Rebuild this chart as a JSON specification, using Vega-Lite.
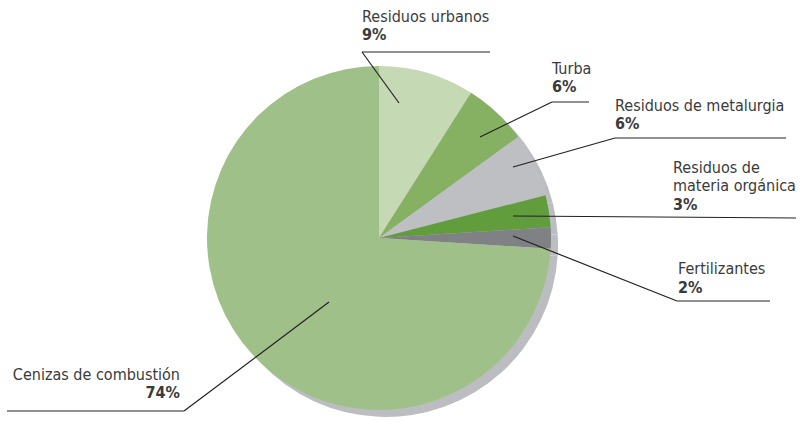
{
  "$schema": "https://vega.github.io/schema/vega-lite/v6.json",
  "width": 802,
  "height": 422,
  "padding": 0,
  "autosize": {"type": "none"},
  "background": "white",
  "config": {"view": {"stroke": null}},
  "datasets": {
    "slices": [
      {"name": "Residuos urbanos", "share": 0.09, "idx": 1},
      {"name": "Turba", "share": 0.06, "idx": 2},
      {"name": "Residuos de metalurgia", "share": 0.06, "idx": 3},
      {"name": "Residuos de materia orgánica", "share": 0.03, "idx": 4},
      {"name": "Fertilizantes", "share": 0.02, "idx": 5},
      {"name": "Cenizas de combustión", "share": 0.74, "idx": 6}
    ],
    "labels": [
      {"label": "Residuos urbanos", "share": 0.09, "x": 362, "y": 22, "py": 40, "side": "left"},
      {"label": "Turba", "share": 0.06, "x": 552, "y": 74, "py": 92, "side": "left"},
      {"label": "Residuos de metalurgia", "share": 0.06, "x": 615, "y": 111, "py": 129, "side": "left"},
      {"label": "Residuos de\nmateria orgánica", "share": 0.03, "x": 673, "y": 173, "py": 210, "side": "left"},
      {"label": "Fertilizantes", "share": 0.02, "x": 678, "y": 274, "py": 293, "side": "left"},
      {"label": "Cenizas de combustión", "share": 0.74, "x": 180, "y": 380, "py": 398, "side": "right"}
    ],
    "leaders": [
      {"x": 399, "y": 103, "x2": 362, "y2": 52},
      {"x": 362, "y": 52, "x2": 490, "y2": 52},
      {"x": 480, "y": 137, "x2": 552, "y2": 102},
      {"x": 552, "y": 102, "x2": 589, "y2": 102},
      {"x": 513, "y": 167, "x2": 615, "y2": 138},
      {"x": 615, "y": 138, "x2": 786, "y2": 138},
      {"x": 513, "y": 216, "x2": 796, "y2": 218},
      {"x": 513, "y": 236, "x2": 677, "y2": 301},
      {"x": 677, "y": 301, "x2": 770, "y2": 301},
      {"x": 329, "y": 302, "x2": 184, "y2": 411},
      {"x": 7, "y": 411, "x2": 184, "y2": 411}
    ]
  },
  "layer": [
    {
      "data": {"name": "slices"},
      "mark": {"type": "arc", "outerRadius": 172, "color": "#bcbdc1"},
      "encoding": {
        "theta": {"field": "share", "type": "quantitative", "stack": true},
        "order": {"field": "idx", "type": "quantitative"},
        "x": {"datum": 386, "type": "quantitative", "scale": {"domain": [0, 802], "nice": false, "zero": false}, "axis": null},
        "y": {"datum": 245, "type": "quantitative", "scale": {"domain": [0, 422], "nice": false, "zero": false, "reverse": true}, "axis": null}
      }
    },
    {
      "data": {"name": "slices"},
      "mark": {"type": "arc", "outerRadius": 172},
      "encoding": {
        "theta": {"field": "share", "type": "quantitative", "stack": true},
        "order": {"field": "idx", "type": "quantitative"},
        "color": {
          "field": "name",
          "type": "nominal",
          "scale": {
            "domain": ["Residuos urbanos", "Turba", "Residuos de metalurgia", "Residuos de materia orgánica", "Fertilizantes", "Cenizas de combustión"],
            "range": ["#c5d9b5", "#86b062", "#bebfc2", "#629d3d", "#808185", "#a0c08a"]
          },
          "legend": null
        },
        "x": {"datum": 379, "type": "quantitative", "scale": {"domain": [0, 802], "nice": false, "zero": false}, "axis": null},
        "y": {"datum": 238, "type": "quantitative", "scale": {"domain": [0, 422], "nice": false, "zero": false, "reverse": true}, "axis": null}
      }
    },
    {
      "data": {"name": "leaders"},
      "mark": {"type": "rule", "color": "#222222", "strokeWidth": 1.2},
      "encoding": {
        "x": {"field": "x", "type": "quantitative", "scale": {"domain": [0, 802], "nice": false, "zero": false}, "axis": null},
        "y": {"field": "y", "type": "quantitative", "scale": {"domain": [0, 422], "nice": false, "zero": false, "reverse": true}, "axis": null},
        "x2": {"field": "x2"},
        "y2": {"field": "y2"}
      }
    },
    {
      "data": {"name": "labels"},
      "transform": [{"filter": "datum.side === 'left'"}],
      "layer": [
        {
          "mark": {"type": "text", "align": "left", "baseline": "alphabetic", "font": "Liberation Sans Narrow, DejaVu Sans Condensed, Roboto", "fontSize": 16, "color": "#3a3a3a", "lineBreak": "\n", "lineHeight": 18},
          "encoding": {
            "x": {"field": "x", "type": "quantitative", "scale": {"domain": [0, 802], "nice": false, "zero": false}, "axis": null},
            "y": {"field": "y", "type": "quantitative", "scale": {"domain": [0, 422], "nice": false, "zero": false, "reverse": true}, "axis": null},
            "text": {"field": "label"}
          }
        },
        {
          "mark": {"type": "text", "align": "left", "baseline": "alphabetic", "font": "Liberation Sans Narrow, DejaVu Sans Condensed, Roboto", "fontSize": 16, "fontWeight": "bold", "color": "#3a3a3a"},
          "encoding": {
            "x": {"field": "x", "type": "quantitative", "scale": {"domain": [0, 802], "nice": false, "zero": false}, "axis": null},
            "y": {"field": "py", "type": "quantitative", "scale": {"domain": [0, 422], "nice": false, "zero": false, "reverse": true}, "axis": null},
            "text": {"field": "share", "type": "quantitative", "format": ".0%"}
          }
        }
      ]
    },
    {
      "data": {"name": "labels"},
      "transform": [{"filter": "datum.side === 'right'"}],
      "layer": [
        {
          "mark": {"type": "text", "align": "right", "baseline": "alphabetic", "font": "Liberation Sans Narrow, DejaVu Sans Condensed, Roboto", "fontSize": 16, "color": "#3a3a3a"},
          "encoding": {
            "x": {"field": "x", "type": "quantitative", "scale": {"domain": [0, 802], "nice": false, "zero": false}, "axis": null},
            "y": {"field": "y", "type": "quantitative", "scale": {"domain": [0, 422], "nice": false, "zero": false, "reverse": true}, "axis": null},
            "text": {"field": "label"}
          }
        },
        {
          "mark": {"type": "text", "align": "right", "baseline": "alphabetic", "font": "Liberation Sans Narrow, DejaVu Sans Condensed, Roboto", "fontSize": 16, "fontWeight": "bold", "color": "#3a3a3a"},
          "encoding": {
            "x": {"field": "x", "type": "quantitative", "scale": {"domain": [0, 802], "nice": false, "zero": false}, "axis": null},
            "y": {"field": "py", "type": "quantitative", "scale": {"domain": [0, 422], "nice": false, "zero": false, "reverse": true}, "axis": null},
            "text": {"field": "share", "type": "quantitative", "format": ".0%"}
          }
        }
      ]
    }
  ]
}
